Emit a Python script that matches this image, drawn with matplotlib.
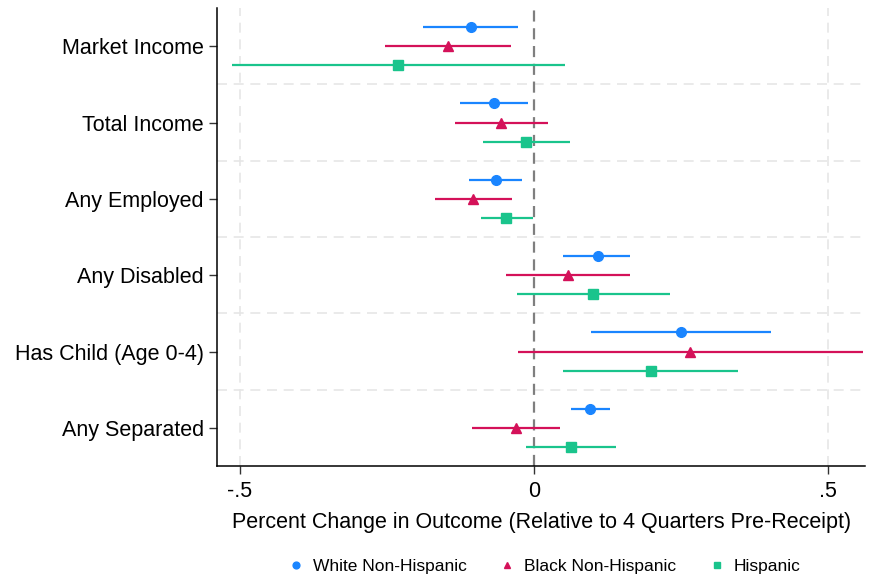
import matplotlib
matplotlib.use("Agg")
import matplotlib.pyplot as plt
import numpy as np

plt.rcParams['font.family'] = ['Liberation Sans', 'DejaVu Sans']

categories = ["Market Income", "Total Income", "Any Employed",
              "Any Disabled", "Has Child (Age 0-4)", "Any Separated"]
series = ["White Non-Hispanic", "Black Non-Hispanic", "Hispanic"]

white_est = [-0.108, -0.068, -0.065, 0.108, 0.250, 0.096]
white_lo  = [-0.188, -0.126, -0.110, 0.050, 0.097, 0.063]
white_hi  = [-0.028, -0.010, -0.020, 0.164, 0.403, 0.129]

black_est = [-0.146, -0.056, -0.103, 0.058, 0.265, -0.031]
black_lo  = [-0.253, -0.135, -0.169, -0.047, -0.027, -0.105]
black_hi  = [-0.039, 0.024, -0.037, 0.164, 0.560, 0.044]

hisp_est = [-0.231, -0.013, -0.047, 0.101, 0.199, 0.063]
hisp_lo  = [-0.514, -0.086, -0.091, -0.029, 0.050, -0.013]
hisp_hi  = [0.053, 0.062, -0.002, 0.232, 0.347, 0.140]

xticks = [-0.5, 0, 0.5]
xticklabels = ["-.5", "0", ".5"]

colors = ["#1a85ff", "#d41159", "#1ac48c"]
markers = ["o", "^", "s"]
offsets = [-0.25, 0.0, 0.25]

fig = plt.figure(figsize=(8.72, 5.76), dpi=100)
ax = fig.add_axes([0.249, 0.191, 0.743, 0.795])

n = len(categories)
ypos = np.arange(n)

# grid
for x in [-0.5, 0.5]:
    ax.axvline(x, color="#e6e6e6", lw=1.2, ls=(0, (6, 4)), zorder=0)
for i in range(n - 1):
    ax.axhline(i + 0.5, color="#e6e6e6", lw=1.2, ls=(0, (6, 4)), zorder=0)
ax.axvline(0, color="#7f7f7f", lw=1.6, ls=(0, (5, 3)), zorder=1)

data = [(white_est, white_lo, white_hi), (black_est, black_lo, black_hi),
        (hisp_est, hisp_lo, hisp_hi)]
for (est, lo, hi), c, m, off, lab in zip(data, colors, markers, offsets, series):
    y = ypos + off
    ax.hlines(y, lo, hi, color=c, lw=1.6, zorder=2)
    ax.plot(est, y, ls="none", marker=m, color=c, ms=7, zorder=3, label=lab)

ax.set_ylim(n - 0.5, -0.5)
ax.set_xlim(-0.539, 0.563)
ax.set_yticks(ypos)
ax.set_yticklabels(categories, fontsize=15.5)
ax.set_xticks(xticks)
ax.set_xticklabels(xticklabels, fontsize=15.5)
ax.tick_params(axis="both", direction="out", length=6, width=1, color="#333333")
ax.tick_params(axis="x", pad=5)
ax.tick_params(axis="y", pad=3.5)
ax.set_xlabel("Percent Change in Outcome (Relative to 4 Quarters Pre-Receipt)",
              fontsize=15.5, labelpad=7)

for s in ["top", "right"]:
    ax.spines[s].set_visible(False)
for s in ["left", "bottom"]:
    ax.spines[s].set_linewidth(1.1)

leg = fig.legend(loc="center", bbox_to_anchor=(0.625, 10 / 576), ncol=3,
                 frameon=False, fontsize=12.5, markerscale=0.7,
                 handlelength=0.8, handletextpad=0.57, columnspacing=1.95)

fig.savefig("out.png", dpi=100)
